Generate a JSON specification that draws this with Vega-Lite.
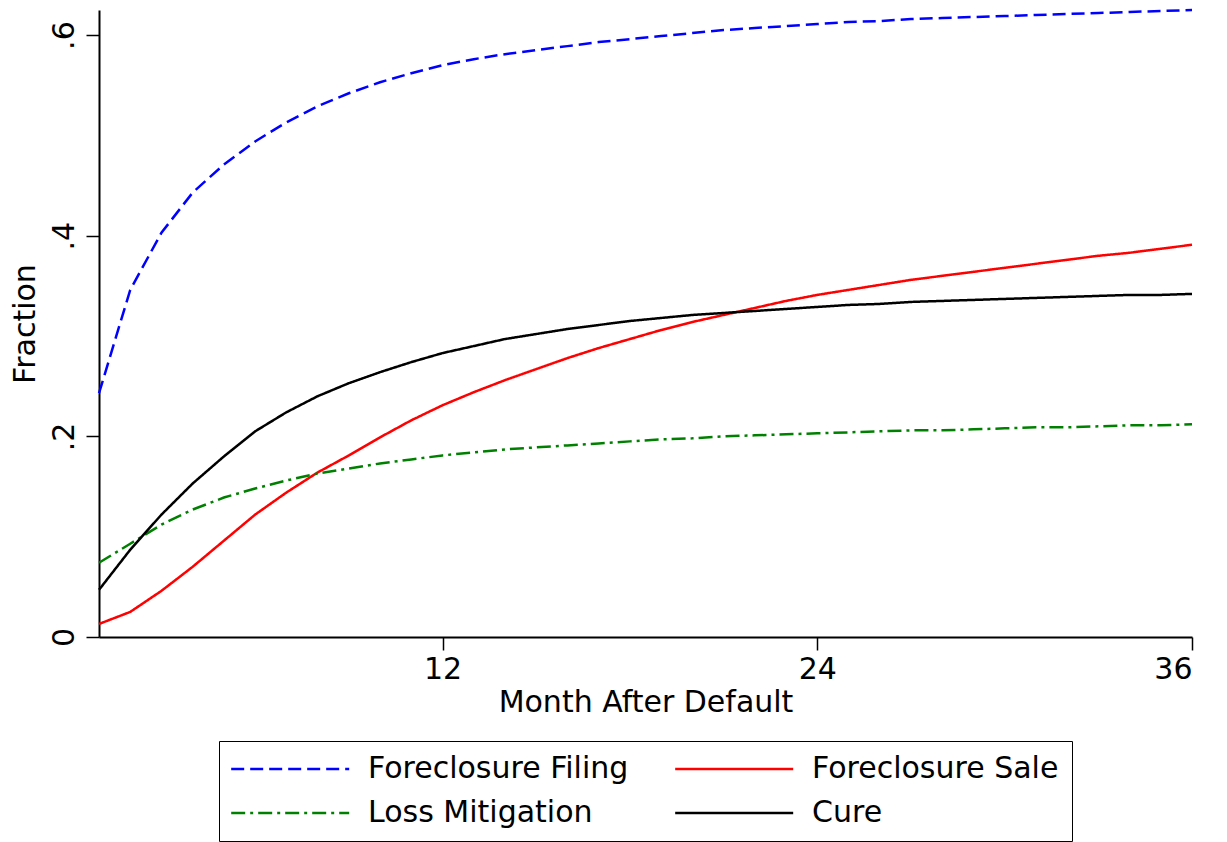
{
  "$schema": "https://vega.github.io/schema/vega-lite/v6.json",
  "width": 1093,
  "height": 627,
  "autosize": {"type": "none"},
  "padding": {"left": 99, "top": 10, "right": 35, "bottom": 205},
  "background": "white",
  "config": {
    "view": {"stroke": null},
    "font": "DejaVu Sans"
  },
  "data": {
    "values": [
      {"m":1,"s":"Foreclosure Filing","v":0.243},{"m":2,"s":"Foreclosure Filing","v":0.346},{"m":3,"s":"Foreclosure Filing","v":0.403},{"m":4,"s":"Foreclosure Filing","v":0.443},{"m":5,"s":"Foreclosure Filing","v":0.471},{"m":6,"s":"Foreclosure Filing","v":0.494},{"m":7,"s":"Foreclosure Filing","v":0.513},{"m":8,"s":"Foreclosure Filing","v":0.529},{"m":9,"s":"Foreclosure Filing","v":0.542},{"m":10,"s":"Foreclosure Filing","v":0.553},{"m":11,"s":"Foreclosure Filing","v":0.562},{"m":12,"s":"Foreclosure Filing","v":0.570},{"m":13,"s":"Foreclosure Filing","v":0.576},{"m":14,"s":"Foreclosure Filing","v":0.581},{"m":15,"s":"Foreclosure Filing","v":0.585},{"m":16,"s":"Foreclosure Filing","v":0.589},{"m":17,"s":"Foreclosure Filing","v":0.593},{"m":18,"s":"Foreclosure Filing","v":0.596},{"m":19,"s":"Foreclosure Filing","v":0.599},{"m":20,"s":"Foreclosure Filing","v":0.602},{"m":21,"s":"Foreclosure Filing","v":0.605},{"m":22,"s":"Foreclosure Filing","v":0.607},{"m":23,"s":"Foreclosure Filing","v":0.609},{"m":24,"s":"Foreclosure Filing","v":0.611},{"m":25,"s":"Foreclosure Filing","v":0.613},{"m":26,"s":"Foreclosure Filing","v":0.614},{"m":27,"s":"Foreclosure Filing","v":0.616},{"m":28,"s":"Foreclosure Filing","v":0.617},{"m":29,"s":"Foreclosure Filing","v":0.618},{"m":30,"s":"Foreclosure Filing","v":0.619},{"m":31,"s":"Foreclosure Filing","v":0.620},{"m":32,"s":"Foreclosure Filing","v":0.621},{"m":33,"s":"Foreclosure Filing","v":0.622},{"m":34,"s":"Foreclosure Filing","v":0.623},{"m":35,"s":"Foreclosure Filing","v":0.624},{"m":36,"s":"Foreclosure Filing","v":0.625},
      {"m":1,"s":"Foreclosure Sale","v":0.013},{"m":2,"s":"Foreclosure Sale","v":0.025},{"m":3,"s":"Foreclosure Sale","v":0.046},{"m":4,"s":"Foreclosure Sale","v":0.070},{"m":5,"s":"Foreclosure Sale","v":0.096},{"m":6,"s":"Foreclosure Sale","v":0.122},{"m":7,"s":"Foreclosure Sale","v":0.144},{"m":8,"s":"Foreclosure Sale","v":0.164},{"m":9,"s":"Foreclosure Sale","v":0.181},{"m":10,"s":"Foreclosure Sale","v":0.199},{"m":11,"s":"Foreclosure Sale","v":0.216},{"m":12,"s":"Foreclosure Sale","v":0.231},{"m":13,"s":"Foreclosure Sale","v":0.244},{"m":14,"s":"Foreclosure Sale","v":0.256},{"m":15,"s":"Foreclosure Sale","v":0.267},{"m":16,"s":"Foreclosure Sale","v":0.278},{"m":17,"s":"Foreclosure Sale","v":0.288},{"m":18,"s":"Foreclosure Sale","v":0.297},{"m":19,"s":"Foreclosure Sale","v":0.306},{"m":20,"s":"Foreclosure Sale","v":0.314},{"m":21,"s":"Foreclosure Sale","v":0.321},{"m":22,"s":"Foreclosure Sale","v":0.328},{"m":23,"s":"Foreclosure Sale","v":0.335},{"m":24,"s":"Foreclosure Sale","v":0.341},{"m":25,"s":"Foreclosure Sale","v":0.346},{"m":26,"s":"Foreclosure Sale","v":0.351},{"m":27,"s":"Foreclosure Sale","v":0.356},{"m":28,"s":"Foreclosure Sale","v":0.360},{"m":29,"s":"Foreclosure Sale","v":0.364},{"m":30,"s":"Foreclosure Sale","v":0.368},{"m":31,"s":"Foreclosure Sale","v":0.372},{"m":32,"s":"Foreclosure Sale","v":0.376},{"m":33,"s":"Foreclosure Sale","v":0.380},{"m":34,"s":"Foreclosure Sale","v":0.383},{"m":35,"s":"Foreclosure Sale","v":0.387},{"m":36,"s":"Foreclosure Sale","v":0.391},
      {"m":1,"s":"Loss Mitigation","v":0.074},{"m":2,"s":"Loss Mitigation","v":0.093},{"m":3,"s":"Loss Mitigation","v":0.112},{"m":4,"s":"Loss Mitigation","v":0.127},{"m":5,"s":"Loss Mitigation","v":0.139},{"m":6,"s":"Loss Mitigation","v":0.148},{"m":7,"s":"Loss Mitigation","v":0.156},{"m":8,"s":"Loss Mitigation","v":0.163},{"m":9,"s":"Loss Mitigation","v":0.168},{"m":10,"s":"Loss Mitigation","v":0.173},{"m":11,"s":"Loss Mitigation","v":0.177},{"m":12,"s":"Loss Mitigation","v":0.181},{"m":13,"s":"Loss Mitigation","v":0.184},{"m":14,"s":"Loss Mitigation","v":0.187},{"m":15,"s":"Loss Mitigation","v":0.189},{"m":16,"s":"Loss Mitigation","v":0.191},{"m":17,"s":"Loss Mitigation","v":0.193},{"m":18,"s":"Loss Mitigation","v":0.195},{"m":19,"s":"Loss Mitigation","v":0.197},{"m":20,"s":"Loss Mitigation","v":0.198},{"m":21,"s":"Loss Mitigation","v":0.200},{"m":22,"s":"Loss Mitigation","v":0.201},{"m":23,"s":"Loss Mitigation","v":0.202},{"m":24,"s":"Loss Mitigation","v":0.203},{"m":25,"s":"Loss Mitigation","v":0.204},{"m":26,"s":"Loss Mitigation","v":0.205},{"m":27,"s":"Loss Mitigation","v":0.206},{"m":28,"s":"Loss Mitigation","v":0.206},{"m":29,"s":"Loss Mitigation","v":0.207},{"m":30,"s":"Loss Mitigation","v":0.208},{"m":31,"s":"Loss Mitigation","v":0.209},{"m":32,"s":"Loss Mitigation","v":0.209},{"m":33,"s":"Loss Mitigation","v":0.210},{"m":34,"s":"Loss Mitigation","v":0.211},{"m":35,"s":"Loss Mitigation","v":0.211},{"m":36,"s":"Loss Mitigation","v":0.212},
      {"m":1,"s":"Cure","v":0.047},{"m":2,"s":"Cure","v":0.087},{"m":3,"s":"Cure","v":0.122},{"m":4,"s":"Cure","v":0.153},{"m":5,"s":"Cure","v":0.180},{"m":6,"s":"Cure","v":0.205},{"m":7,"s":"Cure","v":0.224},{"m":8,"s":"Cure","v":0.240},{"m":9,"s":"Cure","v":0.253},{"m":10,"s":"Cure","v":0.264},{"m":11,"s":"Cure","v":0.274},{"m":12,"s":"Cure","v":0.283},{"m":13,"s":"Cure","v":0.290},{"m":14,"s":"Cure","v":0.297},{"m":15,"s":"Cure","v":0.302},{"m":16,"s":"Cure","v":0.307},{"m":17,"s":"Cure","v":0.311},{"m":18,"s":"Cure","v":0.315},{"m":19,"s":"Cure","v":0.318},{"m":20,"s":"Cure","v":0.321},{"m":21,"s":"Cure","v":0.323},{"m":22,"s":"Cure","v":0.325},{"m":23,"s":"Cure","v":0.327},{"m":24,"s":"Cure","v":0.329},{"m":25,"s":"Cure","v":0.331},{"m":26,"s":"Cure","v":0.332},{"m":27,"s":"Cure","v":0.334},{"m":28,"s":"Cure","v":0.335},{"m":29,"s":"Cure","v":0.336},{"m":30,"s":"Cure","v":0.337},{"m":31,"s":"Cure","v":0.338},{"m":32,"s":"Cure","v":0.339},{"m":33,"s":"Cure","v":0.340},{"m":34,"s":"Cure","v":0.341},{"m":35,"s":"Cure","v":0.341},{"m":36,"s":"Cure","v":0.342}
    ]
  },
  "mark": {"type": "line", "strokeWidth": 2.5, "clip": false},
  "encoding": {
    "x": {
      "field": "m", "type": "quantitative",
      "scale": {"domain": [1, 36], "nice": false, "zero": false},
      "axis": {
        "title": "Month After Default",
        "values": [12, 24, 36],
        "grid": false,
        "domainColor": "black", "domainWidth": 2,
        "tickColor": "black", "tickWidth": 1.5, "tickSize": 13,
        "labelFont": "DejaVu Sans", "labelFontSize": 30, "labelColor": "black",
        "labelPadding": 4,
        "titleFont": "DejaVu Sans", "titleFontSize": 30, "titleFontWeight": "normal", "titleColor": "black",
        "titlePadding": 3
      }
    },
    "y": {
      "field": "v", "type": "quantitative",
      "scale": {"domain": [0, 0.625], "nice": false},
      "axis": {
        "title": "Fraction",
        "values": [0, 0.2, 0.4, 0.6],
        "labelExpr": "datum.value == 0 ? '0' : replace(format(datum.value, '.1f'), '0.', '.')",
        "grid": false,
        "domainColor": "black", "domainWidth": 2,
        "tickColor": "black", "tickWidth": 1.5, "tickSize": 13,
        "labelFont": "DejaVu Sans", "labelFontSize": 30, "labelColor": "black",
        "labelAngle": -90, "labelAlign": "center", "labelBaseline": "alphabetic",
        "labelPadding": 13,
        "titleFont": "DejaVu Sans", "titleFontSize": 30, "titleFontWeight": "normal", "titleColor": "black",
        "titlePadding": 9
      }
    },
    "color": {
      "field": "s", "type": "nominal",
      "scale": {
        "domain": ["Foreclosure Filing", "Foreclosure Sale", "Loss Mitigation", "Cure"],
        "range": ["#0000ff", "#ff0000", "#008000", "#000000"]
      },
      "legend": {
        "title": null,
        "orient": "none",
        "legendX": 120,
        "legendY": 731,
        "direction": "horizontal",
        "columns": 2,
        "columnPadding": 41,
        "rowPadding": 14,
        "padding": 13,
        "strokeColor": "black",
        "symbolType": "M-1.34,0H8.66",
        "symbolSize": 557,
        "symbolStrokeWidth": 2.5,
        "symbolFillColor": "transparent",
        "labelFont": "DejaVu Sans",
        "labelFontSize": 30,
        "labelColor": "black",
        "labelOffset": 106,
        "labelLimit": 500
      }
    },
    "strokeDash": {
      "field": "s", "type": "nominal",
      "scale": {
        "domain": ["Foreclosure Filing", "Foreclosure Sale", "Loss Mitigation", "Cure"],
        "range": [[13, 6], [1, 0], [14, 5, 3, 5], [1, 0]]
      },
      "legend": null
    }
  }
}
